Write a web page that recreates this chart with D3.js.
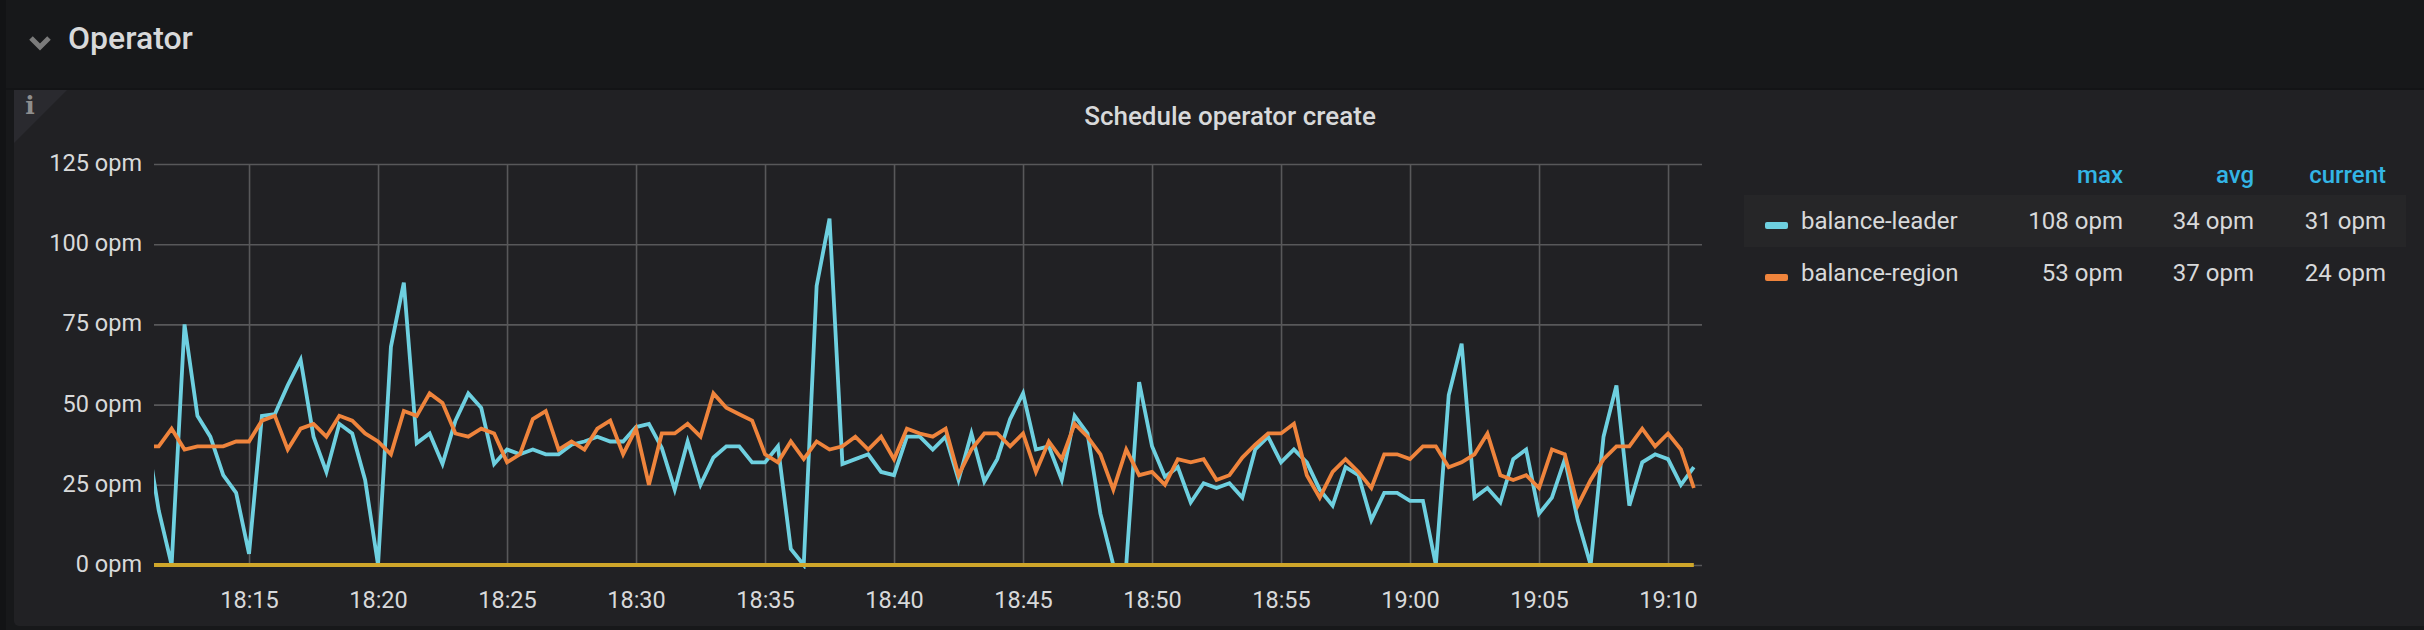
<!DOCTYPE html>
<html><head><meta charset="utf-8">
<script src="https://cdn.jsdelivr.net/npm/d3@7/dist/d3.min.js"></script>
<style>
html,body{margin:0;padding:0;background:#161719;width:2424px;height:630px;overflow:hidden}
text{font-family:Roboto,sans-serif}
</style></head><body><svg id="c" width="2424" height="630"></svg>
<script>
const rowTitle="Operator";
const panelTitle="Schedule operator create";
const firstTime="2019-01-01T18:11:00";
const domainStart="2019-01-01T18:11:19";
const domainEnd="2019-01-01T19:11:19";
const stepSeconds=30;
const yTicks=[0,25,50,75,100,125];
const balanceLeader=[42,17,0,75,46.5,40,28,22.5,3.5,46.5,47,56,64,40,29,44,41,26.5,0,68,88,38,41,31.5,45,53.5,49,31.5,36,34.5,36,34.5,34.5,37.5,38.5,40,38.5,38.5,43,44,36.5,23.5,38.5,25,33.5,37,37,32,32,37,5,0,87,108,31.5,33,34.5,29,28,40,40,36,40,26.5,41,26,33,45.5,53.5,36,37,26.5,46.5,41,16,0,0,57,37,27.5,30.5,19.5,25.5,24,25.5,21,36,40,32,36,32,23.5,18.5,30.5,28,14,22.5,22.5,20,20,0,53,69,21,24,19.5,33,36,16,21,33,14,0,40,56,18.5,32,34.5,33,25,30.5];
const balanceRegion=[37,37,42.5,36,37,37,37,38.5,38.5,45,46.5,36,42.5,44,40,46.5,45,41,38.5,34.5,48,46.5,53.5,50.5,41,40,42.5,41,32,34.5,45.5,48,36,38.5,36,42.5,45,34.5,42.5,25,41,41,44,40,53.5,49,47,45,34.5,32,38.5,33,38.5,36,37,40,36,40,33,42.5,41,40,42.5,28,36,41,41,37,41,29,38.5,33,44,40,34.5,23.5,36,28,29,25,33,32,33,26.5,28,33.5,37.5,41,41,44,28,21,29,33,29,24,34.5,34.5,33,37,37,30.5,32,34.5,41,28,26.5,28,24,36,34.5,18.5,26.5,33,37,37,42.5,37,41,36,24];
const hiddenSeries=[0,0,0,0,0,0,0,0,0,0,0,0,0,0,0,0,0,0,0,0,0,0,0,0,0,0,0,0,0,0,0,0,0,0,0,0,0,0,0,0,0,0,0,0,0,0,0,0,0,0,0,0,0,0,0,0,0,0,0,0,0,0,0,0,0,0,0,0,0,0,0,0,0,0,0,0,0,0,0,0,0,0,0,0,0,0,0,0,0,0,0,0,0,0,0,0,0,0,0,0,0,0,0,0,0,0,0,0,0,0,0,0,0,0,0,0,0,0,0,0,0];
const legendNames=["balance-leader","balance-region"];
const legendColumns=["max","avg","current"];
const legendMax=["108 opm","53 opm"];
const legendAvg=["34 opm","37 opm"];
const legendCurrent=["31 opm","24 opm"];
const colors=["#6ED0E0","#EF843C","#CFA62A"];

const svg=d3.select("#c");
const L=154,R=1702,T=164,B=565;
const x=d3.scaleTime().domain([new Date(domainStart),new Date(domainEnd)]).range([L,R]);
const y=d3.scaleLinear().domain([0,125]).range([B,T]);
const t0=new Date(firstTime).getTime();
const timeAt=i=>new Date(t0+i*stepSeconds*1000);

svg.append("rect").attr("x",0).attr("y",0).attr("width",2424).attr("height",630).attr("fill","#17181a");
svg.append("rect").attr("x",0).attr("y",0).attr("width",6).attr("height",630).attr("fill","#121315");
svg.append("rect").attr("x",6).attr("y",88).attr("width",2418).attr("height",2).attr("fill","#131416");
svg.append("rect").attr("x",14).attr("y",90).attr("width",2420).attr("height",536).attr("rx",5).attr("fill","#212124");
svg.append("path").attr("d","M14 90H67L14 143Z").attr("fill","#2a2a2f");
svg.append("text").attr("x",30).attr("y",114).attr("text-anchor","middle").style("font-family","'DejaVu Serif',serif").attr("font-size",25).attr("font-weight",700).attr("fill","#8e8e8e").text("i");

svg.append("path").attr("d","M31 38L40 47L49 38").attr("fill","none").attr("stroke","#7b7b7b").attr("stroke-width",5);
svg.append("text").attr("x",68).attr("y",49).attr("font-size",32).attr("font-weight",500).attr("fill","#d8d9da").text(rowTitle);
svg.append("text").attr("x",1230).attr("y",125).attr("text-anchor","middle").attr("font-size",26).attr("font-weight",500).attr("fill","#d8d9da").text(panelTitle);

const gy=svg.append("g").attr("transform",`translate(${L},0)`).call(d3.axisLeft(y).tickValues(yTicks).tickSize(-(R-L)).tickFormat(d=>d+" opm"));
const gx=svg.append("g").attr("transform",`translate(0,${B})`).call(d3.axisBottom(x).ticks(d3.timeMinute.every(5)).tickSize(-(B-T)).tickFormat(d3.timeFormat("%H:%M")));
[gy,gx].forEach(g=>{g.select(".domain").remove();
 g.selectAll("line").attr("stroke","#58585a").attr("stroke-width",1.6);
 g.selectAll("text").attr("fill","#d8d9da").attr("font-size",23.5).style("font-family","Roboto,sans-serif");});
gy.selectAll("text").attr("x",-12).attr("y",-1.5).attr("dy","0.34em");
gx.selectAll("text").attr("y",26.5).attr("dy","0.71em");

svg.append("clipPath").attr("id","plot").append("rect").attr("x",L).attr("y",T-10).attr("width",R-L).attr("height",B-T+14);
const line=d3.line().x((d,i)=>x(timeAt(i))).y(d=>y(d));
const plot=svg.append("g").attr("clip-path","url(#plot)");
[[balanceLeader,0],[balanceRegion,1],[hiddenSeries,2]].forEach(([s,c])=>{
 plot.append("path").datum(s).attr("d",line).attr("fill","none").attr("stroke",colors[c]).attr("stroke-width",3.8).attr("stroke-linejoin","miter");
});

svg.append("rect").attr("x",1744).attr("y",195).attr("width",662).attr("height",52).attr("fill","#262628");
const colRight=[2123,2254,2386];
legendColumns.forEach((n,i)=>svg.append("text").attr("x",colRight[i]).attr("y",183).attr("text-anchor","end").attr("font-size",24).attr("font-weight",500).attr("fill","#33b5e5").text(n));
legendNames.forEach((n,r)=>{
 const by=229+r*52;
 svg.append("rect").attr("x",1765).attr("y",by-7).attr("width",23).attr("height",7).attr("rx",2).attr("fill",colors[r]);
 svg.append("text").attr("x",1801).attr("y",by).attr("font-size",24).attr("fill","#d8d9da").text(n);
 [legendMax,legendAvg,legendCurrent].forEach((col,i)=>svg.append("text").attr("x",colRight[i]).attr("y",by).attr("text-anchor","end").attr("font-size",24).attr("fill","#d8d9da").text(col[r]));
});
</script></body></html>
